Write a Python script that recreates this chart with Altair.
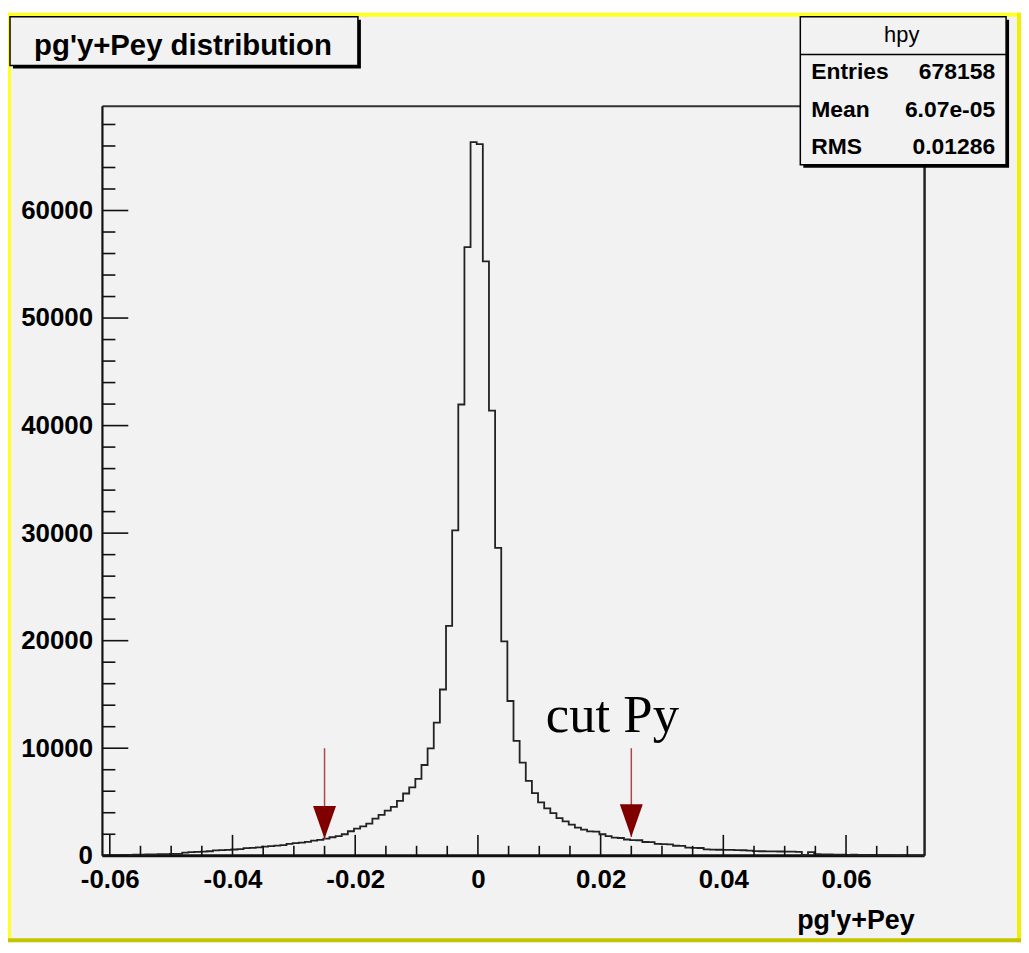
import altair as alt
import pandas as pd

# ---------------- data ----------------
bin_start = -0.0612
bin_width = 0.001
counts = [
    30, 60, 50, 80, 90, 110, 100, 130, 120, 150, 140, 170, 180,          # 0-12
    300, 340, 370, 390, 420,                                              # 13-17
    500, 530, 555, 580, 610,                                              # 18-22
    700, 740, 780, 840, 900, 950, 990,                                    # 23-29
    1100, 1170, 1230, 1300, 1400, 1470, 1600, 1720, 1820, 2000,           # 30-39
    2280, 2520, 2740, 2990, 3450, 3800, 4190, 4550, 5100, 5790,           # 40-49
    6350, 7140, 8440, 9980, 12380, 15460, 21380, 30250, 41960, 56590,     # 50-59
    66360, 66180, 55270, 41400, 28620, 19940, 14390, 10690, 8660, 6960,   # 60-69
    5820, 4960, 4410, 3970, 3500, 3200, 2890, 2620, 2430, 2260,           # 70-79
    2240, 2000, 1820, 1680, 1650, 1510, 1460, 1440, 1280, 1260,           # 80-89
    1100, 1080, 1060, 930, 920, 760, 740, 720, 590, 570,                  # 90-99
    560, 550, 545, 530, 510, 480, 430, 420, 410, 400,                     # 100-109
    395, 390, 380, 370, 60, 340, 150, 120, 130, 110,                      # 110-119
    100, 90, 100, 80, 70, 80, 60, 50, 60, 40,                             # 120-129
    50, 30, 40, 30,                                                       # 130-133
]
x_domain = [-0.0612, 0.0728]
y_domain = [0, 69700]
x_major = [-0.06, -0.04, -0.02, 0.0, 0.02, 0.04, 0.06]
x_minor = [-0.055, -0.05, -0.045, -0.035, -0.03, -0.025, -0.015, -0.01, -0.005,
           0.005, 0.01, 0.015, 0.025, 0.03, 0.035, 0.045, 0.05, 0.055, 0.065, 0.07]
y_major = [0, 10000, 20000, 30000, 40000, 50000, 60000]
y_minor = [2000, 4000, 6000, 8000, 12000, 14000, 16000, 18000, 22000, 24000, 26000, 28000,
           32000, 34000, 36000, 38000, 42000, 44000, 46000, 48000, 52000, 54000, 56000,
           58000, 62000, 64000, 66000, 68000]
cut_x = [-0.025, 0.025]
cut_tip = [1570, 1750]
cut_top = [10000, 10000]
title_text = "pg'y+Pey distribution"
hist_name = "hpy"
stat_labels = ["Entries", "Mean", "RMS"]
stat_values = ["678158", "6.07e-05", "0.01286"]
x_title = "pg'y+Pey"
note_text = "cut Py"

# ---------------- tables ----------------
edges = [bin_start + i * bin_width for i in range(len(counts) + 1)]
hist_df = pd.DataFrame({"edge": edges, "count": counts + [counts[-1]]})
xmaj_df = pd.DataFrame({"v": x_major})
xmin_df = pd.DataFrame({"v": x_minor})
ymaj_df = pd.DataFrame({"v": y_major})
ymin_df = pd.DataFrame({"v": y_minor})
cut_df = pd.DataFrame({"x": cut_x, "tip": cut_tip, "top": cut_top})
one = pd.DataFrame({"d": [0]})

W, H = 827, 754
SANS = "Liberation Sans, Arial, Helvetica, sans-serif"
BG = "#f2f2f2"

xs = alt.Scale(domain=x_domain, nice=False, zero=False)
ys = alt.Scale(domain=y_domain, nice=False)


def box(x1, x2, y1, y2, fill, stroke=None, sw=0):
    kw = dict(fill=fill)
    if stroke:
        kw.update(stroke=stroke, strokeWidth=sw)
    return alt.Chart(one).mark_rect(**kw).encode(
        x=alt.value(x1), x2=alt.value(x2), y=alt.value(y1), y2=alt.value(y2))


def line(x1, x2, y1, y2, color, sw):
    return alt.Chart(one).mark_rule(color=color, strokeWidth=sw).encode(
        x=alt.value(x1), x2=alt.value(x2), y=alt.value(y1), y2=alt.value(y2))


def label(text, x, y, size, weight="bold", align="left", font=SANS, color="black"):
    return alt.Chart(one).mark_text(
        text=text, font=font, fontSize=size, fontWeight=weight, align=align,
        baseline="alphabetic", color=color).encode(x=alt.value(x), y=alt.value(y))


layers = []
# canvas and its highlight border
layers.append(box(-95, 924, -94, 841, BG))
layers.append(box(-95, 924, -94, -90, "#ffff20"))
layers.append(box(-95, -92, -94, 841, "#ffff20"))
layers.append(box(920, 924, -94, 841, "#f0f000"))
layers.append(box(-95, 924, 837, 841, "#c4c400"))

# frame
layers.append(line(0, W, 0, 0, "#333333", 2))
layers.append(line(W, W, 0, H, "#222222", 2.5))
layers.append(line(0, 0, 0, H, "#111111", 2.2))
layers.append(line(0, W, H, H, "#111111", 2.8))

# histogram outline (carries the axes)
minus = "\u2212"
hist = alt.Chart(hist_df).mark_line(
    interpolate="step-after", color="#222222", strokeWidth=1.8).encode(
    x=alt.X("edge:Q", scale=xs, axis=alt.Axis(
        values=x_major, title=None, domain=False, ticks=False, grid=False,
        labelExpr="replace(format(datum.value, '.2~f'), '" + minus + "', '-')",
        labelPadding=11, labelFlush=False, labelOverlap=False, zindex=2)),
    y=alt.Y("count:Q", scale=ys, axis=alt.Axis(
        values=y_major, format="d", title=None, domain=False, ticks=False, grid=False,
        labelPadding=10, labelFlush=False, labelOverlap=False, zindex=2)),
)
layers.append(hist)

# ticks (inward, ROOT style)
layers.append(alt.Chart(xmaj_df).mark_rule(color="#111", strokeWidth=1.6).encode(
    x=alt.X("v:Q", scale=xs), y=alt.value(H), y2=alt.value(H - 21)))
layers.append(alt.Chart(xmin_df).mark_rule(color="#111", strokeWidth=1.6).encode(
    x=alt.X("v:Q", scale=xs), y=alt.value(H), y2=alt.value(H - 10)))
layers.append(alt.Chart(ymaj_df).mark_rule(color="#111", strokeWidth=1.6).encode(
    y=alt.Y("v:Q", scale=ys), x=alt.value(0), x2=alt.value(26)))
layers.append(alt.Chart(ymin_df).mark_rule(color="#111", strokeWidth=1.6).encode(
    y=alt.Y("v:Q", scale=ys), x=alt.value(0), x2=alt.value(13)))

# cut arrows
layers.append(alt.Chart(cut_df).mark_rule(color="#a84848", strokeWidth=1.5).encode(
    x=alt.X("x:Q", scale=xs),
    y=alt.Y("top:Q", scale=ys), y2="tip:Q"))
layers.append(alt.Chart(cut_df).mark_point(
    shape="M-0.7,-1L0.7,-1L0,1Z", filled=True, size=1089, color="#800000",
    opacity=1, strokeWidth=0, yOffset=-16.5).encode(
    x=alt.X("x:Q", scale=xs), y=alt.Y("tip:Q", scale=ys)))

# annotation text
layers.append(label(note_text, 513, 630, 53, weight="normal", align="center",
                    font="Liberation Serif, Times New Roman, serif"))

# x axis title
layers.append(label(x_title, 817, 828, 27, align="right"))

# title box
layers.append(box(-90, 260, -87, -38, "#000000"))
layers.append(box(-93, 257, -90, -41, BG, "#000000", 1.5))
layers.append(label(title_text, 81, -51, 29.5, align="center"))

# stats box
layers.append(box(705, 912, -87, 62, "#000000"))
layers.append(box(702, 909, -90, 59, BG, "#000000", 1.5))
layers.append(line(702, 909, -52, -52, "#000000", 1.5))
layers.append(label(hist_name, 804, -65, 22, weight="normal", align="center"))
row_base = [-27, 11, 48]
for lab, val, yb in zip(stat_labels, stat_values, row_base):
    layers.append(label(lab, 713, yb, 23))
    layers.append(label(val, 898, yb, 23, align="right"))

chart = alt.layer(*layers).properties(
    width=W, height=H,
    autosize=alt.AutoSizeParams(type="none"),
    padding={"left": 95, "top": 96, "right": 97, "bottom": 87},
    background="white",
).configure_view(stroke=None, fill=BG).configure_axis(
    labelFont=SANS, labelFontSize=26, labelFontWeight="bold", labelColor="black")

chart.save("out.html", embed_options={"renderer": "svg", "actions": False})
